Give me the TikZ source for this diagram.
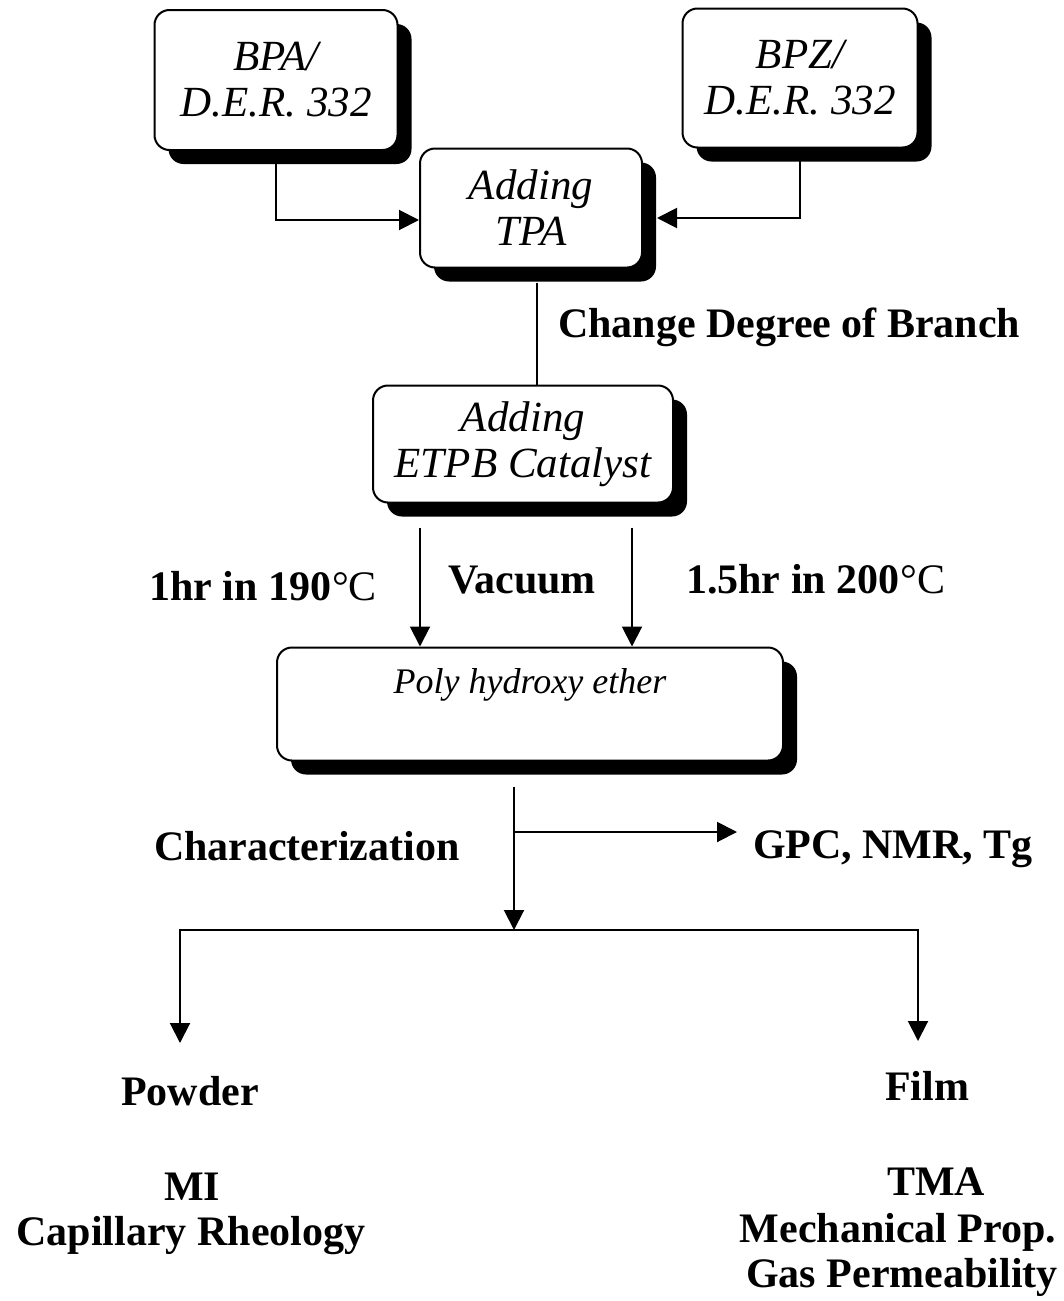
\documentclass[tikz,border=0pt]{standalone}
\usepackage{fontspec}
\setmainfont{Liberation Serif}
\usepackage{tikz}
\usetikzlibrary{arrows.meta,positioning,calc,shadows}
\newcommand{\degC}{{\mdseries\kern1pt°C}}

\begin{document}
\begin{tikzpicture}[x=1pt,y=-1pt,line width=2pt,
  >={Triangle[length=20pt,width=20pt]},
  proc/.style={draw,rounded corners=15pt,fill=white,inner sep=0pt,align=center,
    font=\fontsize{43}{46}\selectfont\itshape,
    drop shadow={shadow xshift=14pt,shadow yshift=-14pt,opacity=1,fill=black}},
  tag/.style={inner sep=0pt,anchor=base,font=\fontsize{42}{46}\selectfont\bfseries}]
\useasboundingbox (0,0) rectangle (1064,1301);

% boxes
\node[proc,minimum width=243pt,minimum height=140pt] (bpa) at (276,80) {BPA/\\D.E.R. 332};
\node[proc,minimum width=235pt,minimum height=139pt] (bpz) at (800,78) {BPZ/\\D.E.R. 332};
\node[proc,minimum width=222pt,minimum height=119pt] (tpa) at (531,208) {Adding\\TPA};
\node[proc,minimum width=300pt,minimum height=117pt] (etpb) at (523,444) {Adding\\ETPB Catalyst};
\node[proc,minimum width=506pt,minimum height=113pt,text height=46pt,text depth=67pt,
  font=\fontsize{36}{40}\selectfont\itshape] (poly) at (530,704) {Poly hydroxy ether};

% labels
\node[tag,anchor=base west] (branch) at (557,337) {Change Degree of Branch};
\node[tag,anchor=base west] (t190) at (148,600) {1hr in 190\degC};
\node[tag,anchor=base west] (vac) at (447,593) {Vacuum};
\node[tag,anchor=base west] (t200) at (685,593) {1.5hr in 200\degC};
\node[tag,anchor=base west] (charz) at (153,860) {Characterization};
\node[tag,anchor=base west] (gpc) at (752,858) {GPC, NMR, Tg};
\node[tag] (powder) at (190,1105) {Powder};
\node[tag] (film) at (927,1100) {Film};
\node[tag] (mi) at (192,1200) {MI};
\node[tag] (cap) at (191,1245) {Capillary Rheology};
\node[tag] (tma) at (936,1195) {TMA};
\node[tag] (mech) at (898,1242) {Mechanical Prop.};
\node[tag] (gas) at (902,1287) {Gas Permeability};

% connectors
\draw[->] (bpa.south) |- ([yshift=-12pt]tpa.west);
\draw[->] (bpz.south) |- ([xshift=14pt,yshift=-10pt]tpa.east);
\coordinate (t0) at ([xshift=6pt,yshift=-14pt]tpa.south);
\draw (t0) -- (t0 |- etpb.north);
\coordinate (d1) at ([xshift=-103pt,yshift=-24pt]etpb.south);
\coordinate (d2) at ([xshift=109pt,yshift=-24pt]etpb.south);
\draw[->] (d1) -- (d1 |- poly.north);
\draw[->] (d2) -- (d2 |- poly.north);
\coordinate (c0) at ([xshift=-16pt,yshift=-25pt]poly.south);
\coordinate (tee) at (514,832);
\coordinate (split) at (514,930);
\draw[->] (c0) -- (split);
\draw[->] (tee) -- ($(tee -| gpc.west)+(-15,0)$);
\coordinate (pw) at (180,1043);
\coordinate (fm) at (918,1041);
\draw[->] (split) -- (split -| pw) -- (pw);
\draw[->] (split) -- (split -| fm) -- (fm);
\end{tikzpicture}
\end{document}
